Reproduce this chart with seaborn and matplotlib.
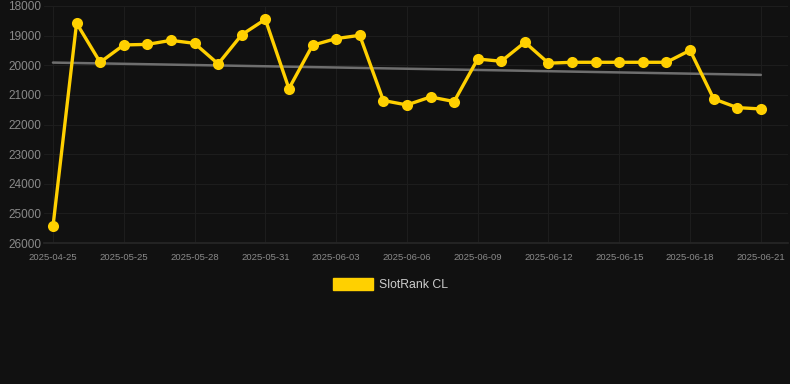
import numpy as np
import pandas as pd
import matplotlib
matplotlib.use("Agg")
import matplotlib.pyplot as plt
import seaborn as sns

dates = ["2025-04-25"] + [f"2025-05-{d}" for d in range(23, 32)] + [f"2025-06-{d:02d}" for d in range(1, 22)]
rank = [25440, 18580, 19900, 19315, 19295, 19160, 19260, 19955, 18970, 18450,
        20790, 19325, 19100, 18990, 21190, 21340, 21070, 21225, 19790, 19865,
        19225, 19930, 19900, 19900, 19900, 19900, 19900, 19495, 21135, 21430,
        21475]
trend_x = [0, len(dates) - 1]
trend_y = [19910, 20325]
y_ticks = [18000, 19000, 20000, 21000, 22000, 23000, 24000, 25000, 26000]

df = pd.DataFrame({"idx": np.arange(len(dates)), "date": dates, "rank": rank})

bg = "#111111"
gold = "#ffd000"

sns.set_theme(style="dark")
plt.rcParams['font.family'] = ['Liberation Sans', 'DejaVu Sans']

fig = plt.figure(figsize=(7.9, 3.84), dpi=100, facecolor=bg)
ax = fig.add_axes([44 / 790, 1 - 243 / 384, 744 / 790, 237 / 384])
ax.set_facecolor(bg)

ax.plot(trend_x, trend_y, color="#6e6e6e", lw=1.8, zorder=2)
sns.lineplot(data=df, x="idx", y="rank", ax=ax, color=gold, lw=2.4, marker="o",
             markersize=8, markeredgewidth=0, zorder=3, label="SlotRank CL", legend=False)

ax.set_xlim(-0.38, len(dates) - 1 + 1.15)
ax.set_ylim(26000, 18000)
ax.set_yticks(y_ticks)
ax.set_yticklabels([str(v) for v in y_ticks], color="#8a8a8a", fontsize=8.5)
tick_pos = list(range(0, len(dates), 3))
ax.set_xticks(tick_pos)
ax.set_xticklabels([dates[i] for i in tick_pos], color="#8a8a8a", fontsize=6.8)
ax.tick_params(axis="y", length=0, pad=2)
ax.tick_params(axis="x", length=4, color="#262626", pad=3)
ax.grid(True, color="#1d1d1d", lw=0.8)
ax.set_axisbelow(True)
for s in ["top", "right", "left"]:
    ax.spines[s].set_visible(False)
ax.spines["bottom"].set_color("#262626")
ax.set_xlabel("")
ax.set_ylabel("")

# legend
fig.patches.append(plt.Rectangle((333 / 790, 1 - 290 / 384), 40 / 790, 12 / 384,
                                 transform=fig.transFigure, color=gold))
fig.text(379 / 790, 1 - 285 / 384, "SlotRank CL", color="#cccccc", fontsize=8.8, va="center")

fig.savefig("out.png", dpi=100, facecolor=bg)
